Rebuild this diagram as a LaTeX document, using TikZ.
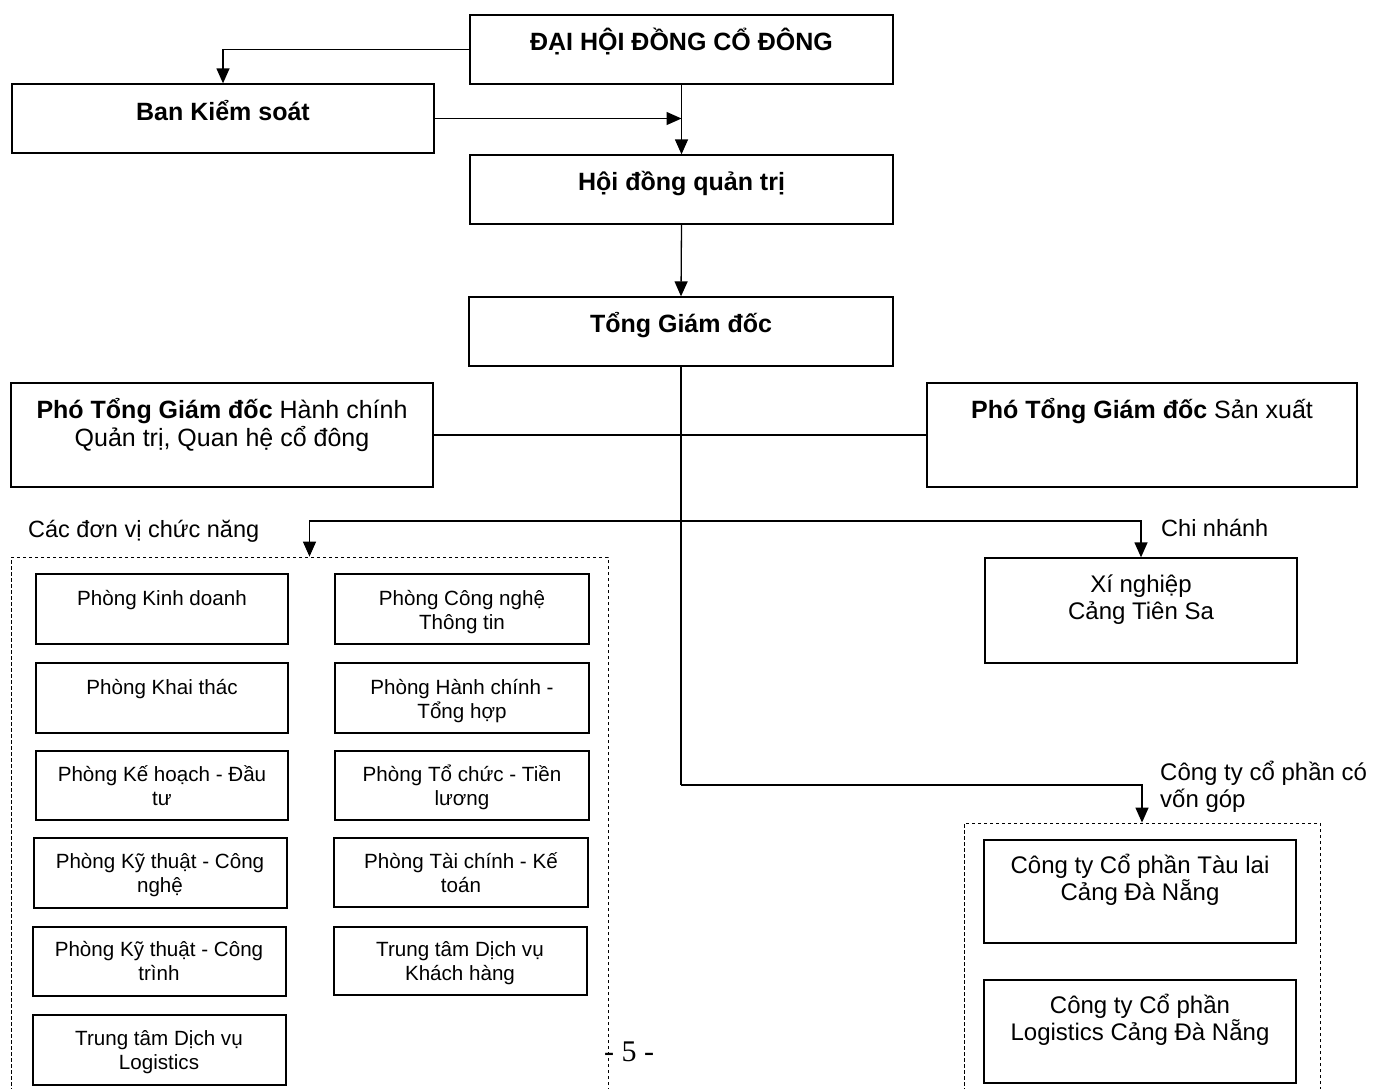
\documentclass[tikz,border=0pt]{standalone}
\usepackage{fontspec}
\setmainfont{Liberation Sans}
\newfontfamily\pgnumfont{Liberation Serif}
\usetikzlibrary{arrows.meta,fit}
\begin{document}
\begin{tikzpicture}[x=1pt,y=-1pt,
 box/.style={draw, line width=1.3pt, inner sep=0pt},
 dbox/.style={draw, line width=0.8pt, dash pattern=on 3.5pt off 2.5pt, inner sep=0pt},
 big/.style={font=\fontsize{24}{27}\selectfont, align=center, inner sep=0pt, anchor=base},
 vp/.style={big, font=\fontsize{25}{28}\selectfont},
 bigb/.style={big, font=\fontsize{25}{28}\selectfont\bfseries},
 sm/.style={font=\fontsize{20.6}{24}\selectfont, align=center, inner sep=0pt, anchor=base},
 arr/.style={line width=1.3pt, -{Triangle[width=13pt,length=15pt]}},
 ln/.style={line width=1.3pt}]
\fill[white] (0,0) rectangle (1380,1088);
\useasboundingbox (0,0) rectangle (1380,1088);

% top chain
\node[box, fit={(470,15) (893,84)}] (dh) {};
\node[bigb] (dht) at (681.5,50) {ĐẠI HỘI ĐỒNG CỔ ĐÔNG};
\node[box, fit={(12,84) (434,153)}] (bks) {};
\node[bigb] (bkst) at (223,120) {Ban Kiểm soát};
\node[box, fit={(470,155) (893,224)}] (hd) {};
\node[bigb] (hdt) at (681.5,190) {Hội đồng quản trị};
\node[box, fit={(469,297) (893,366)}] (tgd) {};
\node[bigb] (tgdt) at (681,332) {Tổng Giám đốc};
\node[box, fit={(11,383) (433,487)}] (phc) {};
\node[vp] (phct) at (222,446) {\textbf{Phó Tổng Giám đốc} Hành chính\\Quản trị, Quan hệ cổ đông};
\node[box, fit={(927,383) (1357,487)}] (psx) {};
\node[vp] (psxt) at (1142,418) {\textbf{Phó Tổng Giám đốc} Sản xuất};

% labels
\node[big, font=\fontsize{23.5}{27}\selectfont, anchor=base west] (lb1) at (28,537) {Các đơn vị chức năng};
\node[big, font=\fontsize{23.5}{27}\selectfont, anchor=base west] (lb2) at (1161,536) {Chi nhánh};
\node[big, anchor=base west, align=left] (lb3) at (1160,807) {Công ty cổ phần có\\vốn góp};

% dashed groups
\node[dbox, fit={(11,557) (608,1100)}] (dvl) {};
\node[dbox, fit={(964,823) (1320,1100)}] (cty) {};

% right side boxes
\node[box, fit={(985,558) (1297,663)}] (xn) {};
\node[big] (xnt) at (1141,619) {Xí nghiệp\\Cảng Tiên Sa};
\node[box, fit={(984,840) (1296,943)}] (tl) {};
\node[big] (tlt) at (1140,900) {Công ty Cổ phần Tàu lai\\Cảng Đà Nẵng};
\node[box, fit={(984,980) (1296,1083)}] (lg) {};
\node[big] (lgt) at (1140,1040) {Công ty Cổ phần\\Logistics Cảng Đà Nẵng};

% functional units
\node[box, fit={(36,574) (288,644)}] (p1) {};
\node[sm] (p1t) at (162,605) {Phòng Kinh doanh};
\node[box, fit={(335,574) (589,644)}] (q1) {};
\node[sm] (q1t) at (462,629) {Phòng Công nghệ\\Thông tin};
\node[box, fit={(36,663) (288,733)}] (p2) {};
\node[sm] (p2t) at (162,694) {Phòng Khai thác};
\node[box, fit={(335,663) (589,733)}] (q2) {};
\node[sm] (q2t) at (462,718) {Phòng Hành chính -\\Tổng hợp};
\node[box, fit={(36,751) (288,820)}] (p3) {};
\node[sm] (p3t) at (162,805) {Phòng Kế hoạch - Đầu\\tư};
\node[box, fit={(335,751) (589,820)}] (q3) {};
\node[sm] (q3t) at (462,805) {Phòng Tổ chức - Tiền\\lương};
\node[box, fit={(34,838) (287,908)}] (p4) {};
\node[sm] (p4t) at (160,892) {Phòng Kỹ thuật - Công\\nghệ};
\node[box, fit={(334,838) (588,907)}] (q4) {};
\node[sm] (q4t) at (461,892) {Phòng Tài chính - Kế\\toán};
\node[box, fit={(33,927) (286,996)}] (p5) {};
\node[sm] (p5t) at (159,980) {Phòng Kỹ thuật - Công\\trình};
\node[box, fit={(334,927) (587,995)}] (q5) {};
\node[sm] (q5t) at (460,980) {Trung tâm Dịch vụ\\Khách hàng};
\node[box, fit={(33,1015) (286,1085)}] (p6) {};
\node[sm] (p6t) at (159,1069) {Trung tâm Dịch vụ\\Logistics};

% page number
\node[font=\pgnumfont\fontsize{30}{34}\selectfont, inner sep=0pt, anchor=base] (pg) at (629,1061) {- 5 -};

% connectors
\draw[arr] (dh.west) -| (bks.north);
\draw[arr] (bks.east) -- (bks.east -| dh.south);
\draw[arr] (dh.south) -- (hd.north);
\draw[arr] (hd.south) -- (tgd.north);
\draw[ln] (phc.east) -- (psx.west);
\coordinate (j1) at (tgd.south |- 0,521);
\coordinate (j2) at (tgd.south |- 0,785);
\draw[ln] (tgd.south) -- (j2);
\draw[arr] (j2) -| (cty.north);
\draw[arr] (j1) -| (dvl.north);
\draw[arr] (j1) -| (xn.north);
\end{tikzpicture}
\end{document}
